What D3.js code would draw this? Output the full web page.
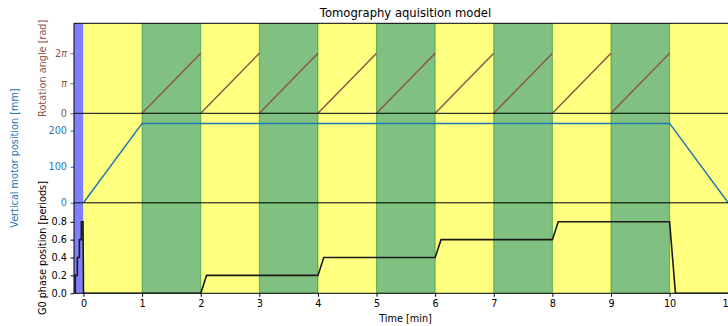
<!DOCTYPE html>
<html>
<head>
<meta charset="utf-8">
<script src="https://cdn.jsdelivr.net/npm/d3@7"></script>
<style>
  body { margin: 0; background: #fff; }
  svg { display: block; }
  text { font-family: "DejaVu Sans", sans-serif; }
</style>
</head>
<body>
<svg id="chart" width="728" height="326"></svg>
<script>
// ---- data ----
const timeDomain = [-0.162, 11.15];
const timeTicks = [0, 1, 2, 3, 4, 5, 6, 7, 8, 9, 10, 11];

// phases of the acquisition (minutes)
const prepSpans = [[-0.162, 0]];
const yellowSpans = [[0, 1], [2, 3], [4, 5], [6, 7], [8, 9], [10, 11.15]];
const greenSpans = [[1, 2], [3, 4], [5, 6], [7, 8], [9, 10]];

// rotation: one full turn per minute
const rotationStarts = [1, 2, 3, 4, 5, 6, 7, 8, 9];
const rotationDuration = 1;
const rotationAngle = 2 * Math.PI;
const angleTicks = [0, Math.PI, 2 * Math.PI];
const angleTickLabels = [["0", ""], ["", "π"], ["2", "π"]];

// vertical motor
const motorTime = [0, 1, 10, 11];
const motorPos = [0, 220, 220, 0];
const motorTicks = [0, 100, 200];

// G0 phase stepping
const phaseTime = [-0.14, -0.14, -0.105, -0.105, -0.07, -0.07, -0.037, -0.037, -0.008, 0,
                   2, 2.1, 4, 4.1, 6, 6.1, 8, 8.1, 10, 10.1, 11.15];
const phaseValue = [0, 0.2, 0.2, 0.4, 0.4, 0.6, 0.6, 0.8, 0.8, 0,
                    0, 0.2, 0.2, 0.4, 0.4, 0.6, 0.6, 0.8, 0.8, 0, 0];
const phaseTicks = [0, 0.2, 0.4, 0.6, 0.8];

// ---- layout ----
const svg = d3.select("#chart");
const left = 74, right = 737;
const panels = [
  { top: 23.3, bottom: 113.3, domain: [0, 3 * Math.PI], color: "#8c564b", label: "Rotation angle [rad]", labelX: 42 },
  { top: 113.3, bottom: 202.8, domain: [0, 248], color: "#1f77b4", label: "Vertical motor position [mm]", labelX: 14 },
  { top: 202.8, bottom: 293.3, domain: [0, 1.012], color: "#000", label: "G0 phase position [periods]", labelX: 42 }
];

const x = d3.scaleLinear().domain(timeDomain).range([left, right]);
const fs = 9.7;

panels.forEach((p, i) => {
  p.y = d3.scaleLinear().domain(p.domain).range([p.bottom, p.top]);
  p.g = svg.append("g");
  svg.append("clipPath").attr("id", "clip" + i)
    .append("rect").attr("x", left).attr("y", p.top).attr("width", right - left).attr("height", p.bottom - p.top);
  p.plot = p.g.append("g").attr("clip-path", `url(#clip${i})`);

  const band = (spans, fill, stroke) => {
    p.plot.selectAll(null).data(spans).enter().append("rect")
      .attr("x", d => x(d[0])).attr("width", d => x(d[1]) - x(d[0]))
      .attr("y", p.top).attr("height", p.bottom - p.top)
      .attr("fill", fill)
      .attr("stroke", stroke).attr("stroke-opacity", 0.5).attr("stroke-width", 1);
  };
  band(prepSpans, "#8080ff", "none");
  band(yellowSpans, "#ffff80", "none");
  band(greenSpans, "#80c080", "#008000");
});

// rotation ramps
const P0 = panels[0];
P0.plot.selectAll(null).data(rotationStarts).enter().append("line")
  .attr("x1", d => x(d)).attr("y1", P0.y(0))
  .attr("x2", d => x(d + rotationDuration)).attr("y2", P0.y(rotationAngle))
  .attr("stroke", "#8c564b").attr("stroke-width", 1.5);

// vertical motor trajectory
const P1 = panels[1];
P1.plot.append("path")
  .datum(motorTime.map((t, i) => [t, motorPos[i]]))
  .attr("d", d3.line().x(d => x(d[0])).y(d => P1.y(d[1])))
  .attr("fill", "none").attr("stroke", "#1f77b4").attr("stroke-width", 1.5);

// phase stepping
const P2 = panels[2];
P2.plot.append("path")
  .datum(phaseTime.map((t, i) => [t, phaseValue[i]]))
  .attr("d", d3.line().x(d => x(d[0])).y(d => P2.y(d[1])))
  .attr("fill", "none").attr("stroke", "#1a1a1a").attr("stroke-width", 1.6);

// y axes
const yTickSets = [angleTicks, motorTicks, phaseTicks];
panels.forEach((p, i) => {
  const ax = d3.axisLeft(p.y).tickValues(yTickSets[i]).tickSize(3.5).tickPadding(3.5);
  if (i === 1) ax.tickFormat(d3.format("d"));
  if (i === 2) ax.tickFormat(d3.format(".1f"));
  if (i === 0) ax.tickFormat(() => "");
  const g = p.g.append("g").attr("transform", `translate(${left},0)`).call(ax);
  g.select(".domain").remove();
  g.selectAll(".tick line").attr("stroke", p.color === "#000" ? "#000" : p.color);
  g.selectAll(".tick text").attr("fill", p.color).attr("font-size", fs).attr("font-family", "DejaVu Sans, sans-serif");
  if (i === 0) {
    g.selectAll(".tick text").each(function(d, k) {
      const t = d3.select(this).text(null);
      t.append("tspan").text(angleTickLabels[k][0]);
      t.append("tspan").attr("font-style", "italic").text(angleTickLabels[k][1]);
    });
  }
  svg.append("text")
    .attr("transform", `translate(${p.labelX},${(p.top + p.bottom) / 2}) rotate(-90)`)
    .attr("text-anchor", "middle").attr("dominant-baseline", "central")
    .attr("font-size", fs).attr("fill", p.color === "#000" ? "#000" : p.color)
    .text(p.label);
});

// frame lines
const frame = svg.append("g").attr("stroke", "#000").attr("stroke-width", 1);
[panels[0].top, panels[0].bottom, panels[1].bottom, panels[2].bottom].forEach(yy => {
  frame.append("line").attr("x1", left).attr("x2", right).attr("y1", yy).attr("y2", yy);
});
frame.append("line").attr("x1", left).attr("x2", left).attr("y1", panels[0].top).attr("y2", panels[2].bottom);

// x axis
const xg = svg.append("g").attr("transform", `translate(0,${panels[2].bottom})`)
  .call(d3.axisBottom(x).tickValues(timeTicks).tickFormat(d3.format("d")).tickSize(3.5).tickPadding(3.5));
xg.select(".domain").remove();
xg.selectAll(".tick line").attr("stroke", "#000");
xg.selectAll(".tick text").attr("fill", "#000").attr("font-size", fs).attr("font-family", "DejaVu Sans, sans-serif");

svg.append("text").attr("x", (left + right) / 2).attr("y", 322)
  .attr("text-anchor", "middle").attr("font-size", fs).attr("fill", "#000")
  .text("Time [min]");

svg.append("text").attr("x", (left + right) / 2).attr("y", 17)
  .attr("text-anchor", "middle").attr("font-size", 11.6).attr("fill", "#000")
  .text("Tomography aquisition model");
</script>
</body>
</html>
